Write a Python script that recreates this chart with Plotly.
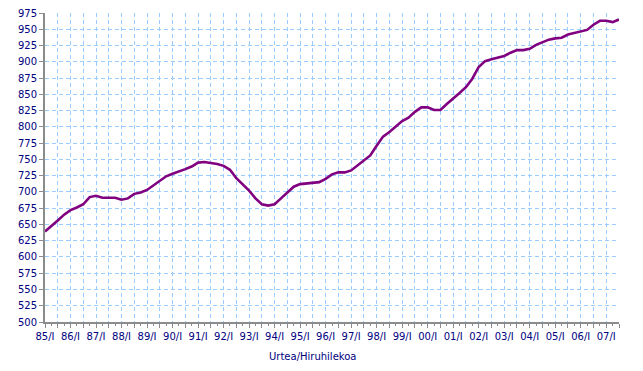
import plotly.graph_objects as go

# Quarterly index values, 85/I .. 07/III
values = [
    639, 647, 656, 665, 672, 676, 681, 692, 694, 691,
    691, 691, 688, 690, 697, 699, 703, 710, 718, 724,
    728, 731, 735, 739, 745, 746, 745, 743, 740, 734,
    721, 711, 702, 690, 681, 679, 681, 690, 699, 708,
    712, 713, 714, 715, 720, 727, 730, 730, 733, 741,
    749, 756, 771, 785, 792, 801, 809, 814, 823, 830,
    830, 826, 826, 835, 843, 852, 861, 874, 892, 901,
    904, 906, 909, 914, 918, 918, 920, 926, 930, 934,
    936, 937, 942, 944, 947, 949, 957, 963, 963, 961,
    965,
]
years = ["85", "86", "87", "88", "89", "90", "91", "92", "93", "94", "95", "96",
         "97", "98", "99", "00", "01", "02", "03", "04", "05", "06", "07"]
year_labels = [y + "/I" for y in years]
x_title = "Urtea/Hiruhilekoa"

quarters = list(range(len(values)))
tickvals = list(range(0, len(values), 2))
ticktext = [year_labels[v // 4] if v % 4 == 0 else "" for v in tickvals]

navy = "#000080"
grid = "#99ccff"
axis_col = "#8c8c8c"
font = "DejaVu Sans, Verdana, sans-serif"

fig = go.Figure()
fig.add_trace(go.Scatter(
    x=quarters, y=values, mode="lines",
    line=dict(color="#800080", width=2.6),
    hoverinfo="skip", showlegend=False,
))

fig.update_layout(
    width=643, height=371,
    margin=dict(l=45, r=24, t=13, b=49, autoexpand=False),
    paper_bgcolor="white", plot_bgcolor="white",
    font=dict(family=font, size=10, color=navy),
    xaxis=dict(
        range=[0, len(values) - 1], automargin=False,
        tickmode="array", tickvals=tickvals, ticktext=ticktext,
        showgrid=True, gridcolor=grid, griddash="4px,3px", gridwidth=1,
        showline=True, linecolor=axis_col, linewidth=2,
        ticks="outside", ticklen=4, tickcolor=axis_col, tickwidth=1,
        minor=dict(dtick=1, tick0=0, ticks="outside", ticklen=2,
                   tickcolor=axis_col, showgrid=False),
        tickfont=dict(family=font, size=10, color=navy),
        zeroline=False, fixedrange=True,
    ),
    yaxis=dict(
        range=[500, 975], tick0=500, dtick=25, automargin=False,
        showgrid=True, gridcolor=grid, griddash="4px,3px", gridwidth=1,
        showline=True, linecolor=axis_col, linewidth=2,
        ticks="outside", ticklen=4, tickcolor=axis_col, tickwidth=1,
        tickfont=dict(family=font, size=10, color=navy),
        zeroline=False, fixedrange=True,
    ),
    annotations=[dict(
        text=x_title, xref="paper", yref="paper",
        x=(312 - 45) / 574, y=-(356 - 322) / 309,
        xanchor="center", yanchor="middle", showarrow=False,
        font=dict(family=font, size=10, color=navy),
    )],
)

fig.write_html(
    "out.html",
    config={"displayModeBar": False},
    post_script="document.body.style.margin='0';document.body.style.overflow='hidden';",
)
